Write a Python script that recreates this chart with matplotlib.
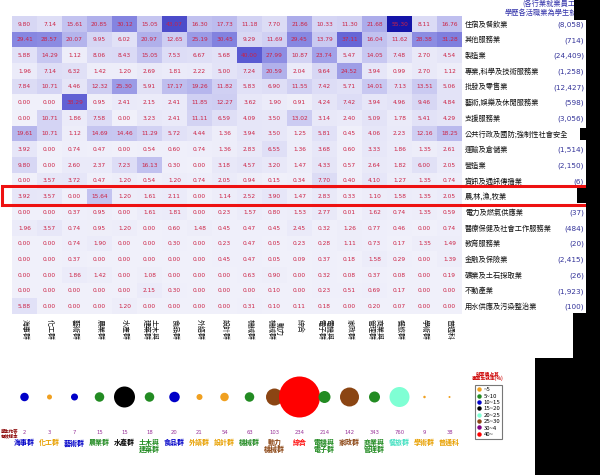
import matplotlib
matplotlib.use('Agg')
import matplotlib.pyplot as plt
import numpy as np
from matplotlib.colors import LinearSegmentedColormap
from matplotlib.patches import Rectangle
from matplotlib.lines import Line2D

plt.rcParams['font.family'] = ['Noto Sans CJK TC', 'DejaVu Sans']

# ---------------- data ----------------
groups = ['海事群', '化工群', '藝術群', '農業群', '水產群', '土木與建築群', '食品群', '外語群',
          '設計群', '機械群', '動力機械群', '綜合', '電機與電子群', '家政群', '商業與管理群',
          '餐旅群', '學術群', '普通科']
group_axis_labels = ['海事群', '化工群', '藝術群', '農業群', '水產群', '土木與\n建築群', '食品群',
                     '外語群', '設計群', '機械群', '動力\n機械群', '綜合', '電機與\n電子群', '家政群',
                     '商業與\n管理群', '餐旅群', '學術群', '普通科']
bottom_labels = ['海事群', '化工群', '藝術群', '農業群', '水產群', '土木與\n建築群', '食品群',
                 '外語群', '設計群', '機械群', '動力\n機械群', '綜合', '電機與\n電子群', '家政群',
                 '商業與\n管理群', '餐旅群', '學術群', '普通科']
industries = ['住宿及餐飲業', '其他服務業', '製造業', '專業,科學及技術服務業', '批發及零售業',
              '藝術,娛樂及休閒服務業', '支援服務業', '公共行政及國防;強制性社會安全', '運輸及倉儲業',
              '營造業', '資訊及通訊傳播業', '農,林,漁,牧業', '電力及燃氣供應業',
              '醫療保健及社會工作服務業', '教育服務業', '金融及保險業', '礦業及土石採取業',
              '不動產業', '用水供應及污染整治業']
industry_counts = ['(8,058)', '(714)', '(24,409)', '(1,258)', '(12,427)', '(598)', '(3,056)', '',
                   '(1,514)', '(2,150)', '(6)', '', '(37)', '(484)', '(20)', '(2,415)', '(26)',
                   '(1,923)', '(100)']

# percentage of graduates of each group (column) working in each industry (row)
values = [
    [9.80, 7.14, 15.61, 20.85, 30.12, 15.05, 43.07, 16.30, 17.73, 11.18, 7.70, 21.86, 10.33, 11.30, 21.68, 55.30, 8.11, 16.76],
    [29.41, 28.57, 20.07, 9.95, 6.02, 20.97, 12.65, 25.19, 30.45, 9.29, 11.69, 29.45, 13.79, 37.11, 16.04, 11.62, 28.38, 31.28],
    [5.88, 14.29, 1.12, 8.06, 8.43, 15.05, 7.53, 6.67, 5.68, 40.00, 27.99, 10.87, 23.74, 5.47, 14.05, 7.48, 2.70, 4.54],
    [1.96, 7.14, 6.32, 1.42, 1.20, 2.69, 1.81, 2.22, 5.00, 7.24, 20.59, 2.04, 9.64, 24.52, 3.94, 0.99, 2.70, 1.12],
    [7.84, 10.71, 4.46, 12.32, 25.30, 5.91, 17.17, 19.26, 11.82, 5.83, 6.90, 11.55, 7.42, 5.71, 14.01, 7.13, 13.51, 5.06],
    [0.00, 0.00, 38.29, 0.95, 2.41, 2.15, 2.41, 11.85, 12.27, 3.62, 1.90, 0.91, 4.24, 7.42, 3.94, 4.96, 9.46, 4.84],
    [0.00, 10.71, 1.86, 7.58, 0.00, 3.23, 2.41, 11.11, 6.59, 4.09, 3.50, 13.02, 3.14, 2.40, 5.09, 1.78, 5.41, 4.29],
    [19.61, 10.71, 1.12, 14.69, 14.46, 11.29, 5.72, 4.44, 1.36, 3.94, 3.50, 1.25, 5.81, 0.45, 4.06, 2.23, 12.16, 18.25],
    [3.92, 0.00, 0.74, 0.47, 0.00, 0.54, 0.60, 0.74, 1.36, 2.83, 6.55, 1.36, 3.68, 0.60, 3.33, 1.86, 1.35, 2.61],
    [9.80, 0.00, 2.60, 2.37, 7.23, 16.13, 0.30, 0.00, 3.18, 4.57, 3.20, 1.47, 4.33, 0.57, 2.64, 1.82, 6.00, 2.05],
    [0.00, 3.57, 3.72, 0.47, 1.20, 0.54, 1.20, 0.74, 2.05, 0.94, 0.15, 0.34, 7.70, 0.40, 4.10, 1.27, 1.35, 0.74],
    [3.92, 3.57, 0.00, 15.64, 1.20, 1.61, 2.11, 0.00, 1.14, 2.52, 3.90, 1.47, 2.83, 0.33, 1.10, 1.58, 1.35, 2.05],
    [0.00, 0.00, 0.37, 0.95, 0.00, 1.61, 1.81, 0.00, 0.23, 1.57, 0.80, 1.53, 2.77, 0.01, 1.62, 0.74, 1.35, 0.59],
    [1.96, 3.57, 0.74, 0.95, 1.20, 0.00, 0.60, 1.48, 0.45, 0.47, 0.45, 2.45, 0.32, 1.26, 0.77, 0.46, 0.00, 0.74],
    [0.00, 0.00, 0.74, 1.90, 0.00, 0.00, 0.30, 0.00, 0.23, 0.47, 0.05, 0.23, 0.28, 1.11, 0.73, 0.17, 1.35, 1.49],
    [0.00, 0.00, 0.37, 0.00, 0.00, 0.00, 0.00, 0.00, 0.45, 0.47, 0.05, 0.09, 0.37, 0.18, 1.58, 0.29, 0.00, 1.39],
    [0.00, 0.00, 1.86, 1.42, 0.00, 1.08, 0.00, 0.00, 0.00, 0.63, 0.90, 0.00, 0.32, 0.08, 0.37, 0.08, 0.00, 0.19],
    [0.00, 0.00, 0.00, 0.00, 0.00, 2.15, 0.30, 0.00, 0.00, 0.00, 0.10, 0.00, 0.23, 0.51, 0.69, 0.17, 0.00, 0.00],
    [5.88, 0.00, 0.00, 0.00, 1.20, 0.00, 0.00, 0.00, 0.00, 0.31, 0.10, 0.11, 0.18, 0.00, 0.20, 0.07, 0.00, 0.00],
]

student_counts = [2, 3, 7, 15, 15, 18, 20, 21, 54, 63, 103, 234, 214, 142, 343, 760, 9, 38]
bubble_diam_px = [8.5, 5, 7, 9.5, 21, 9.5, 10.5, 6, 8.5, 9.5, 17, 41, 12, 19, 11, 20, 2.5, 2]
bubble_bin = [2, 0, 2, 1, 3, 1, 2, 0, 0, 1, 5, 7, 1, 5, 1, 4, 0, 0]
bin_labels = ['~5', '5~10', '10~15', '15~20', '20~25', '25~30', '30~4', '40~']
bin_colors = ['#f0a020', '#228b22', '#0000c8', '#000000', '#7fffd4', '#8b4513', '#800080', '#ff0000']
label_colors_bin = ['#e8a000', '#228b22', '#0000c8', '#000000', '#40e0c0', '#8b4513', '#800080', '#ff0000']

# ---------------- figure ----------------
W, H = 600, 475
fig = plt.figure(figsize=(6, 4.75), dpi=100)

def fx(px):
    return px / W

def fy(py):
    return 1 - py / H

# heatmap
hx0, hx1, hy0, hy1 = 12, 462, 16, 314
ax = fig.add_axes([fx(hx0), fy(hy1), fx(hx1 - hx0), (hy1 - hy0) / H])
cmap = LinearSegmentedColormap.from_list(
    'bl', [(0.0, '#f0f0fa'), (10 / 56, '#d6d6f4'), (20 / 56, '#b4b4ec'),
           (30 / 56, '#8484e0'), (40 / 56, '#5a5ad2'), (1.0, '#1212a6')])
data = np.array(values)
nr, nc = data.shape
ax.pcolormesh(np.arange(nc + 1), np.arange(nr + 1), data, cmap=cmap, vmin=0, vmax=56)
ax.set_xlim(0, nc)
ax.set_ylim(nr, 0)
ax.axis('off')

for i in range(nr):
    for j in range(nc):
        ax.text(j + 0.5, i + 0.52, f'{data[i, j]:.2f}', ha='center', va='center',
                fontsize=4.2, color='#cc2244', family='DejaVu Sans')

colw = (hx1 - hx0) / nc
for i, (name, cnt) in enumerate(zip(industries, industry_counts)):
    ax.text(nc + 3 / colw, i + 0.55, name, ha='left', va='center', fontsize=5.2, color='#111111',
            clip_on=False)
    if cnt:
        ax.text(nc + (584 - hx1) / colw, i + 0.55, cnt, ha='right', va='center', fontsize=5.2,
                color='#333399', clip_on=False, family='DejaVu Sans')

for j, lab in enumerate(group_axis_labels):
    ax.text(j + 0.5, nr + 0.3, lab, rotation=-90, ha='center', va='top', fontsize=5.0,
            color='#111111', linespacing=1.0, rotation_mode='anchor' if False else 'default',
            clip_on=False)

# bubble / bottom panel: y data == pixel offset from 347
bx = fig.add_axes([fx(hx0), fy(467), fx(hx1 - hx0), 120 / H])
bx.set_xlim(0, nc)
bx.set_ylim(120, 0)
bx.axis('off')
xs = np.arange(nc) + 0.5
sizes = [(d * 0.72) ** 2 for d in bubble_diam_px]
cols = [bin_colors[b] for b in bubble_bin]
bx.scatter(xs, [50] * nc, s=sizes, c=cols, linewidths=0, zorder=3)
for j in range(nc):
    bx.text(xs[j], 86, str(student_counts[j]), ha='center', va='center', fontsize=3.8,
            color='#993399', family='DejaVu Sans')
    bx.text(xs[j], 92, bottom_labels[j], ha='center', va='top', fontsize=5.0,
            color=label_colors_bin[bubble_bin[j]], fontweight='bold', linespacing=0.95)
bx.text(-0.45, 86, '學生作答\n有效樣本', ha='left', va='center', fontsize=3.2, color='#880000',
        fontweight='bold', linespacing=1.0)

# legend
handles = [Line2D([0], [0], marker='o', ls='', markersize=3.2, markerfacecolor=c,
                  markeredgewidth=0) for c in bin_colors]
leg = fig.legend(handles, bin_labels, loc='upper left', bbox_to_anchor=(fx(472), fy(382)),
                 fontsize=4.3, frameon=True, fancybox=False, edgecolor='#555555',
                 handlelength=0.6, handletextpad=0.5, borderpad=0.35, labelspacing=0.2)
leg.get_frame().set_linewidth(0.8)
fig.text(fx(488), fy(376), '就業過占其\n事業生就率(%)', ha='center', va='center', fontsize=3.4,
         color='#cc0000', fontweight='bold', linespacing=1.0)

# top-right caption
fig.text(fx(522), fy(4), '(各行業就業員工數)', ha='left', va='center', fontsize=5.2, color='#3333aa')
fig.text(fx(505), fy(13), '學歷各活職業為學生就業', ha='left', va='center', fontsize=5.2, color='#3333aa')

# highlight
fig.patches.append(Rectangle((fx(2), fy(205)), fx(591), 19 / H, fill=False, ec='#ee1111', lw=2.2,
                             transform=fig.transFigure, zorder=10))

# black masks (screenshot artefacts)
for (x0, y0, x1, y1) in [(586, 0, 600, 358), (574, 0, 600, 20), (573, 313, 600, 358),
                         (535, 358, 600, 475), (580, 128, 600, 140), (577, 188, 591, 203)]:
    fig.patches.append(Rectangle((fx(x0), fy(y1)), fx(x1 - x0), (y1 - y0) / H, fc='black',
                                 ec='none', transform=fig.transFigure, zorder=20))

fig.savefig('out.png', dpi=100, facecolor='white')
